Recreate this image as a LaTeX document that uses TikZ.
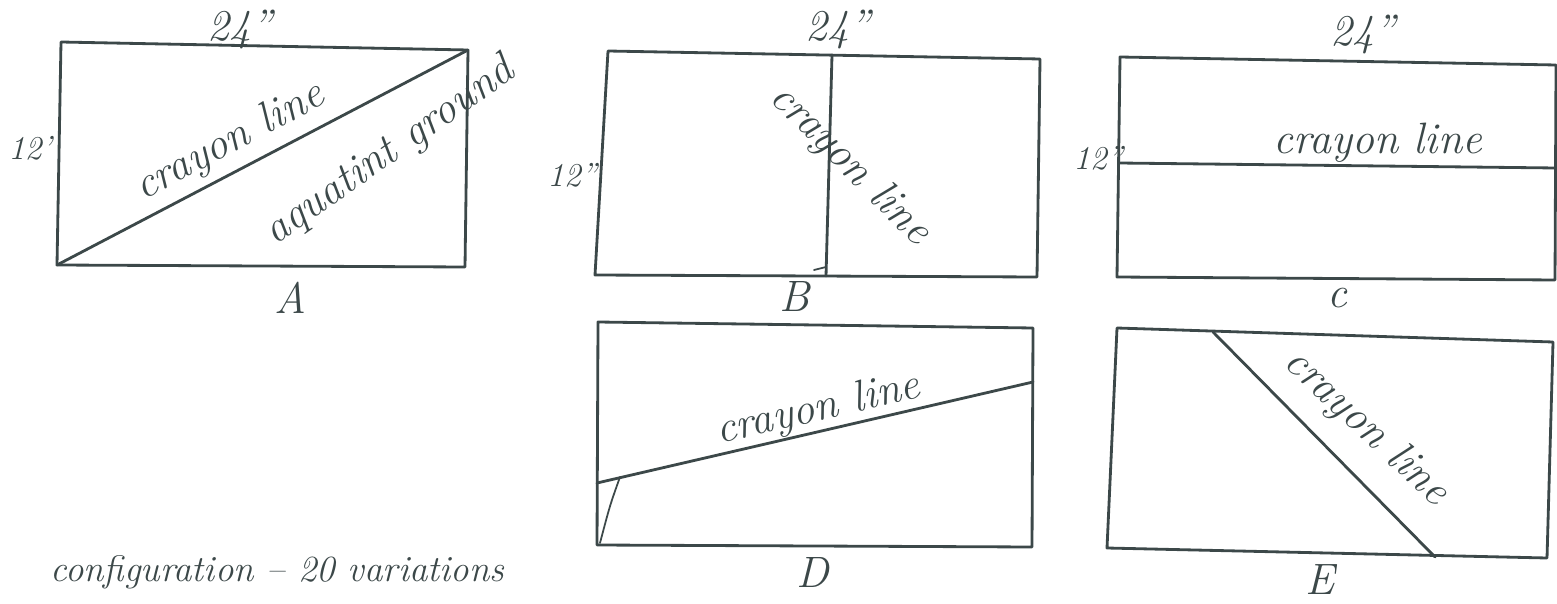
\documentclass[tikz,border=0pt]{standalone}
\usepackage{tikz}
\usetikzlibrary{calc}
\definecolor{inkgray}{HTML}{3C4849}

\begin{document}
\begin{tikzpicture}[
    x=0.02cm, y=-0.02cm,
    sketch/.style={draw=inkgray, line width=1.6pt, line join=round, line cap=round},
    hand/.style={font=\fontsize{25}{29}\selectfont\itshape, text=inkgray, inner sep=0pt},
    side/.style={font=\fontsize{19}{22}\selectfont\itshape, text=inkgray, inner sep=0pt},
    note/.style={font=\fontsize{21}{25}\selectfont\itshape, text=inkgray, inner sep=0pt}
]
\useasboundingbox (0,0) rectangle (1557,604);

% Panel A
\coordinate (a1) at (61,42);
\coordinate (a2) at (468,50);
\coordinate (a3) at (465,267);
\coordinate (a4) at (57,265);
\draw[sketch] (a1) -- (a2) -- (a3) -- (a4) -- cycle;
\draw[sketch] (a4) -- (a2);
\node[hand] (aTop) at (240,30) {24''};
\node[side] (aSide) at (30,148) {12'};
\node[hand, rotate=28] (aCrayon) at (230,142) {crayon line};
\node[hand, rotate=35] (aAqua) at (390,152) {aquatint ground};
\node[hand] (aTag) at (290,298) {A};

% Panel B
\coordinate (b1) at (608,51);
\coordinate (b2) at (1040,59);
\coordinate (b3) at (1037,277);
\coordinate (b4) at (595,275);
\coordinate (bTopMid) at (832,55);
\coordinate (bBotMid) at (826,276);
\draw[sketch] (b1) -- (b2) -- (b3) -- (b4) -- cycle;
\draw[sketch] (bTopMid) -- (bBotMid);
\draw[sketch, line width=1pt] ($(bBotMid)+(-12,-6)$) -- ($(bBotMid)+(0,-9)$);
\node[hand] (bTop) at (838,30) {24''};
\node[side] (bSide) at (572,175) {12''};
\node[hand, rotate=-45] (bCrayon) at (850,165) {crayon line};
\node[hand] (bTag) at (795,297) {B};

% Panel C
\coordinate (c1) at (1120,57);
\coordinate (c2) at (1556,65);
\coordinate (c3) at (1555,280);
\coordinate (c4) at (1117,277);
\coordinate (cLeftMid) at (1119,163);
\coordinate (cRightMid) at (1556,168);
\draw[sketch] (c1) -- (c2) -- (c3) -- (c4) -- cycle;
\draw[sketch] (cLeftMid) -- (cRightMid);
\node[hand] (cTop) at (1363,35) {24''};
\node[side] (cSide) at (1098,158) {12''};
\node[hand] (cCrayon) at (1378,143) {crayon line};
\node[hand] (cTag) at (1337,298) {c};

% Panel D
\coordinate (d1) at (598,322);
\coordinate (d2) at (1033,328);
\coordinate (d3) at (1032,547);
\coordinate (d4) at (597,545);
\coordinate (dLeft) at (597,483);
\coordinate (dRight) at (1033,382);
\draw[sketch] (d1) -- (d2) -- (d3) -- (d4) -- cycle;
\draw[sketch] (dLeft) -- (dRight);
\draw[sketch, line width=1pt] (620,477) .. controls (610,505) .. (600,543);
\node[hand, rotate=13] (dCrayon) at (818,410) {crayon line};
\node[hand] (dTag) at (813,572) {D};

% Panel E
\coordinate (e1) at (1117,328);
\coordinate (e2) at (1553,342);
\coordinate (e3) at (1547,558);
\coordinate (e4) at (1107,548);
\coordinate (eTop) at (1213,332);
\coordinate (eBot) at (1435,557);
\draw[sketch] (e1) -- (e2) -- (e3) -- (e4) -- cycle;
\draw[sketch] (eTop) -- (eBot);
\node[hand, rotate=-43] (eCrayon) at (1366,428) {crayon line};
\node[hand] (eTag) at (1320,580) {E};

% Caption
\node[note, anchor=west] (config) at (50,572) {configuration -- 20 variations};

\end{tikzpicture}
\end{document}
